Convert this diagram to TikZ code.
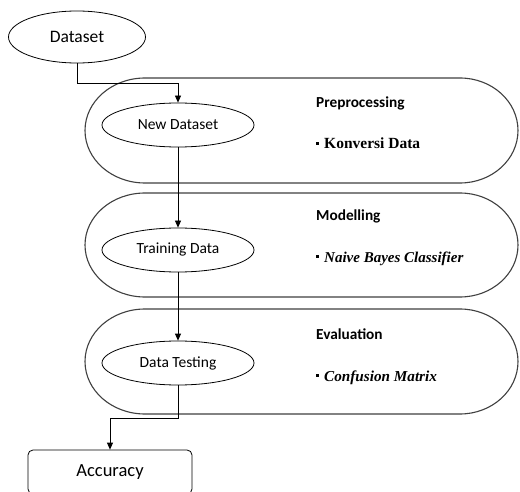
\documentclass[tikz,border=0pt]{standalone}
\usepackage{fontspec}
\setmainfont{Carlito}
\newfontfamily\tnr{Liberation Serif}
\usetikzlibrary{shapes.geometric,arrows.meta}
\tikzset{
  oval/.style={draw=black, line width=0.8pt, ellipse, inner sep=0pt, minimum width=152pt, minimum height=44pt, font=\fontsize{15.5}{18}\selectfont},
  stage/.style={draw=black!75, line width=1.1pt},
  flow/.style={draw=black, line width=0.8pt, -{Triangle[length=7pt,width=6pt]}},
  head/.style={anchor=base west, inner sep=0pt, font=\fontsize{15.3}{18}\selectfont\bfseries},
  item/.style={anchor=base west, inner sep=0pt},
  box/.style={draw=black, line width=0.8pt, rounded corners=5pt, minimum width=164pt, minimum height=44pt, inner sep=0pt, font=\fontsize{18.5}{22}\selectfont}
}
\newcommand{\sqbul}{\rule[0.28em]{3pt}{3pt}\hspace{5pt}}
\newcommand{\stagepath}[2]{%
  \draw[stage] (145,#1) -- (460,#1)
    arc[start angle=270, end angle=450, x radius=58, y radius={(#2-#1)/2}]
    -- (145,#2)
    arc[start angle=90, end angle=270, x radius=60, y radius={(#2-#1)/2}] -- cycle;}
\begin{document}
\begin{tikzpicture}[x=1pt,y=-1pt]
\useasboundingbox (0,0) rectangle (520,492);
\fill[white] (0,0) rectangle (520,492);
% stages
\stagepath{78}{183}
\stagepath{193}{297}
\stagepath{309}{414}
% nodes
\node[oval, minimum width=137pt, minimum height=52pt, font=\fontsize{17.5}{20}\selectfont] (ds) at (77,37) {Dataset};
\node[oval] (nd) at (178,125) {New Dataset};
\node[oval] (td) at (178,250) {Training Data};
\node[oval] (dt) at (178,363) {Data Testing};
\node[box] (acc) at (110,472) {Accuracy};
% stage texts
\node[head] (h1) at (316,108) {Preprocessing};
\node[item, font=\fontsize{15.5}{18}\selectfont\tnr\bfseries] (i1) at (316,149) {\sqbul Konversi Data};
\node[head] (h2) at (316,221) {Modelling};
\node[item, font=\fontsize{15}{18}\selectfont\tnr\bfseries\itshape] (i2) at (316,262) {\sqbul Naive Bayes Classifier};
\node[head] (h3) at (316,339) {Evaluation};
\node[item, font=\fontsize{15.2}{18}\selectfont\tnr\bfseries\itshape] (i3) at (316,381) {\sqbul Confusion Matrix};
% connectors
\draw[flow] (ds.south) -- ++(0,20) -| (nd.north);
\draw[flow] (nd.south) -- (td.north);
\draw[flow] (td.south) -- (dt.north);
\draw[flow] (dt.south) -- ++(0,33) -| (acc.north);
\end{tikzpicture}
\end{document}
